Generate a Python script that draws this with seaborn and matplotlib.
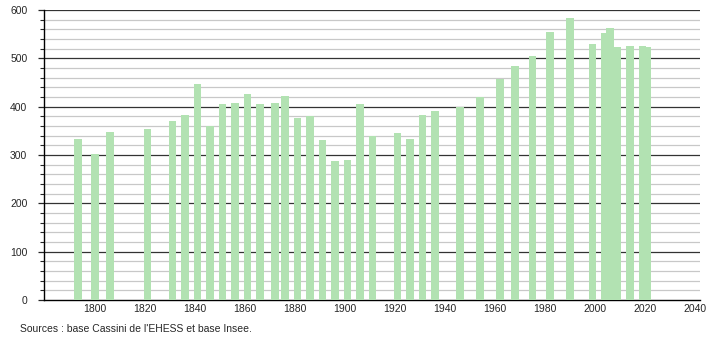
import matplotlib
matplotlib.use("Agg")
import matplotlib.pyplot as plt
from matplotlib.ticker import MultipleLocator
import seaborn as sns
import pandas as pd

years = [1793, 1800, 1806, 1821, 1831, 1836, 1841, 1846, 1851, 1856, 1861, 1866,
         1872, 1876, 1881, 1886, 1891, 1896, 1901, 1906, 1911, 1921, 1926, 1931,
         1936, 1946, 1954, 1962, 1968, 1975, 1982, 1990, 1999, 2004, 2006, 2009,
         2014, 2019, 2021]
population = [334, 302, 348, 354, 370, 383, 447, 360, 405, 408, 426, 405,
              408, 422, 377, 381, 331, 288, 290, 405, 339, 345, 333, 383,
              391, 399, 420, 458, 484, 505, 554, 583, 530, 552, 563, 523,
              525, 525, 523]
y_ticks = [0, 100, 200, 300, 400, 500, 600]
x_ticks = [1800, 1820, 1840, 1860, 1880, 1900, 1920, 1940, 1960, 1980, 2000, 2020, 2040]
source_text = "Sources : base Cassini de l'EHESS et base Insee."

sns.set_style("white")
plt.rcParams['font.family'] = ['Liberation Sans', 'DejaVu Sans']

df = pd.DataFrame({"year": years, "pop": population})

fig = plt.figure(figsize=(7.1, 3.4), dpi=100)
ax = fig.add_axes([44 / 710, 40 / 340, 656 / 710, 290 / 340])

sns.barplot(data=df, x="year", y="pop", native_scale=True, width=1.6,
            color="#b2e2b2", saturation=1, linewidth=0, ax=ax, zorder=3)

ax.set_xlim(1779.6, 2042)
ax.set_ylim(0, 600)
ax.set_xticks(x_ticks)
ax.set_xticklabels([str(t) for t in x_ticks])
ax.set_yticks(y_ticks)
ax.set_yticklabels([str(t) for t in y_ticks])
ax.yaxis.set_minor_locator(MultipleLocator(20))

ax.grid(False)
for v in range(20, 601, 20):
    if v % 100 == 0:
        ax.axhline(v, color="#333333", linewidth=0.9, zorder=1)
    else:
        ax.axhline(v, color="#c8c8c8", linewidth=0.9, zorder=1)

for s in ["top", "right"]:
    ax.spines[s].set_visible(False)
ax.spines["left"].set_color("black")
ax.spines["bottom"].set_color("black")
ax.spines["left"].set_linewidth(1)
ax.spines["bottom"].set_linewidth(1)

ax.tick_params(axis="y", which="major", length=4, width=0.9, pad=8, labelsize=7.5, left=True)
ax.tick_params(axis="y", which="minor", length=3, width=0.8, left=True)
ax.tick_params(axis="x", which="both", length=0, pad=3, labelsize=7.5)
ax.set_xlabel("")
ax.set_ylabel("")

fig.text(20 / 710, 1 - 329 / 340, source_text, fontsize=7.5, va="center", ha="left")

fig.savefig("out.png", dpi=100)
